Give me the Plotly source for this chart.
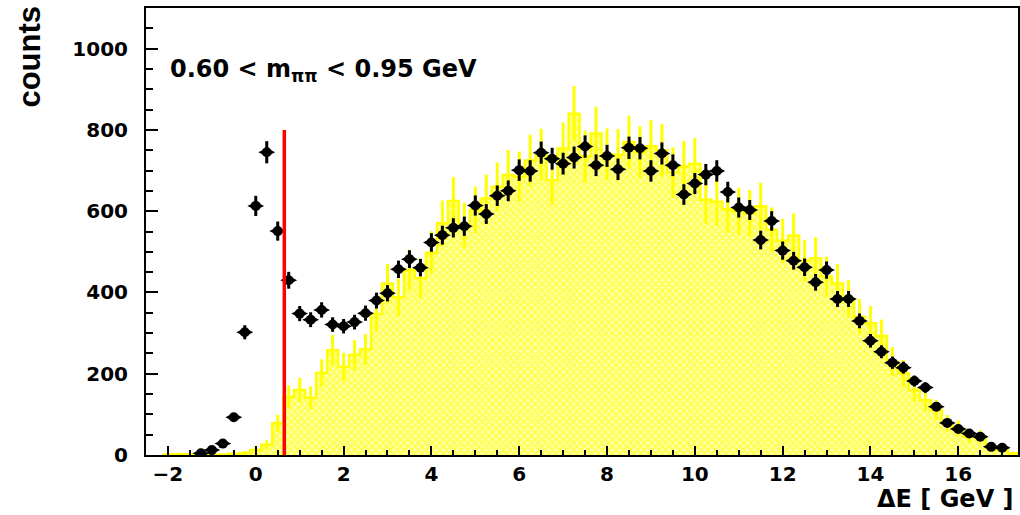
import numpy as np
import plotly.graph_objects as go

# ---- measured distribution (black points) ----
data_x = [-1.25, -1.0, -0.75, -0.5, -0.25, 0.0, 0.25, 0.5, 0.75, 1.0, 1.25, 1.5, 1.75,
          2.0, 2.25, 2.5, 2.75, 3.0, 3.25, 3.5, 3.75, 4.0, 4.25, 4.5, 4.75, 5.0, 5.25,
          5.5, 5.75, 6.0, 6.25, 6.5, 6.75, 7.0, 7.25, 7.5, 7.75, 8.0, 8.25, 8.5, 8.75,
          9.0, 9.25, 9.5, 9.75, 10.0, 10.25, 10.5, 10.75, 11.0, 11.25, 11.5, 11.75,
          12.0, 12.25, 12.5, 12.75, 13.0, 13.25, 13.5, 13.75, 14.0, 14.25, 14.5, 14.75,
          15.0, 15.25, 15.5, 15.75, 16.0, 16.25, 16.5, 16.75, 17.0]
data_counts = [4, 12, 28, 93, 302, 613, 745, 551, 430, 348, 333, 357, 321,
               317, 327, 349, 380, 398, 457, 482, 461, 523, 541, 559, 563, 614, 593,
               638, 650, 701, 699, 744, 729, 717, 732, 759, 713, 736, 703, 756, 755,
               699, 742, 713, 641, 668, 690, 699, 647, 609, 603, 529, 576,
               503, 478, 462, 425, 455, 384, 384, 330, 281, 254, 227, 215,
               182, 166, 119, 79, 64, 53, 45, 20, 18]

# ---- simulated distribution (yellow histogram), bins of 0.25 GeV ----
BIN_W = 0.25
mc_x = [-2.0, -1.75, -1.5, -1.25, -1.0, -0.75, -0.5, -0.25, 0.0, 0.25, 0.5, 0.75, 1.0,
        1.25, 1.5, 1.75, 2.0, 2.25, 2.5, 2.75, 3.0, 3.25, 3.5, 3.75, 4.0, 4.25, 4.5,
        4.75, 5.0, 5.25, 5.5, 5.75, 6.0, 6.25, 6.5, 6.75, 7.0, 7.25, 7.5, 7.75, 8.0,
        8.25, 8.5, 8.75, 9.0, 9.25, 9.5, 9.75, 10.0, 10.25, 10.5, 10.75, 11.0, 11.25,
        11.5, 11.75, 12.0, 12.25, 12.5, 12.75, 13.0, 13.25, 13.5, 13.75, 14.0, 14.25,
        14.5, 14.75, 15.0, 15.25, 15.5, 15.75, 16.0, 16.25, 16.5, 16.75, 17.0, 17.25]
mc_counts = [1, 2, 2, 1, 0, 1, 3, 5, 12, 25, 78, 143, 160,
             141, 202, 258, 217, 246, 260, 347, 422, 388, 455, 435, 498, 570, 625,
             565, 603, 631, 660, 689, 685, 725, 739, 676, 754, 840, 735, 791, 740,
             738, 770, 745, 760, 750, 695, 710, 717, 628, 623, 605, 600, 595,
             612, 554, 527, 540, 478, 484, 439, 422, 385, 340, 324, 293,
             230, 201, 160, 135, 111, 78, 66, 45, 45, 20, 12, 4]
MC_SCALE = 2.35  # simulation normalised to data: errors scale with it

# ---- cut position ----
CUT_X = 0.65
CUT_TOP = 800

data_x = np.array(data_x)
data_counts = np.array(data_counts, dtype=float)
data_err = np.sqrt(data_counts)

mc_x = np.array(mc_x)
mc_counts = np.array(mc_counts, dtype=float)
mc_err = MC_SCALE * np.sqrt(mc_counts)

# step outline built from bin edges
step_x = np.append(mc_x - BIN_W / 2, mc_x[-1] + BIN_W / 2)
step_y = np.append(mc_counts, mc_counts[-1])

YELLOW = "#ffff00"
FONT = "DejaVu Sans"

fig = go.Figure()

fig.add_trace(go.Scatter(
    x=step_x, y=step_y, mode="lines", line=dict(shape="hv", color=YELLOW, width=2.5),
    fill="tozeroy",
    fillpattern=dict(shape="x", fgcolor=YELLOW, bgcolor="#ffffb0", size=5, solidity=0.7),
    hoverinfo="skip",
))

nz = mc_counts > 0
fig.add_trace(go.Scatter(
    x=mc_x[nz], y=mc_counts[nz], mode="markers",
    marker=dict(size=1, color="rgba(0,0,0,0)"),
    error_y=dict(type="data", array=mc_err[nz], color=YELLOW, thickness=3, width=0),
    hoverinfo="skip",
))

# data points: error bar with a wide, lens-shaped black marker
fig.add_trace(go.Scatter(
    x=data_x, y=data_counts, mode="markers",
    marker=dict(symbol="diamond-wide", size=12, color="black", line=dict(width=0)),
    error_y=dict(type="data", array=data_err, color="black", thickness=3, width=0),
))
fig.add_trace(go.Scatter(
    x=data_x, y=data_counts, mode="markers",
    marker=dict(symbol="circle", size=10, color="black", line=dict(width=0)),
))

# cut line
fig.add_trace(go.Scatter(
    x=[CUT_X, CUT_X], y=[0, CUT_TOP], mode="lines",
    line=dict(color="#ff0000", width=3.5),
))

tick_font = dict(family=FONT, size=20, color="black", weight="bold")

fig.update_layout(
    width=1020, height=515,
    margin=dict(l=146, r=0, t=8, b=60),
    paper_bgcolor="white", plot_bgcolor="white",
    showlegend=False,
    xaxis=dict(
        range=[-2.5, 17.36], tick0=0, dtick=2,
        ticks="inside", ticklen=9, tickwidth=2, tickcolor="black",
        minor=dict(dtick=0.5, ticks="inside", ticklen=5, tickwidth=1.5, tickcolor="black"),
        showline=True, linewidth=2, linecolor="black", mirror=True,
        showgrid=False, zeroline=False, tickfont=tick_font,
    ),
    yaxis=dict(
        range=[0, 1100], tick0=0, dtick=200,
        ticks="inside", ticklen=12, tickwidth=2, tickcolor="black",
        minor=dict(dtick=50, ticks="inside", ticklen=7, tickwidth=1.5, tickcolor="black"),
        showline=True, linewidth=2, linecolor="black", mirror=True,
        showgrid=False, zeroline=False, tickfont=tick_font, ticklabelstandoff=12,
    ),
    annotations=[
        dict(text="0.60 &lt; m<sub>ππ</sub> &lt; 0.95 GeV", xref="x", yref="y",
             x=-2.0, y=945, xanchor="left", yanchor="middle", showarrow=False,
             font=dict(family=FONT, size=24, color="black", weight="bold")),
        dict(text="counts", xref="paper", yref="paper", x=-0.133, y=1.01,
             xanchor="center", yanchor="top", textangle=-90, showarrow=False,
             font=dict(family="Liberation Sans", size=31, color="black", weight="bold")),
        dict(text="ΔE [ GeV ]", xref="paper", yref="paper", x=0.998, y=-0.1335,
             xanchor="right", yanchor="bottom", showarrow=False,
             font=dict(family=FONT, size=24, color="black", weight="bold")),
    ],
)

fig.write_html("out.html")
